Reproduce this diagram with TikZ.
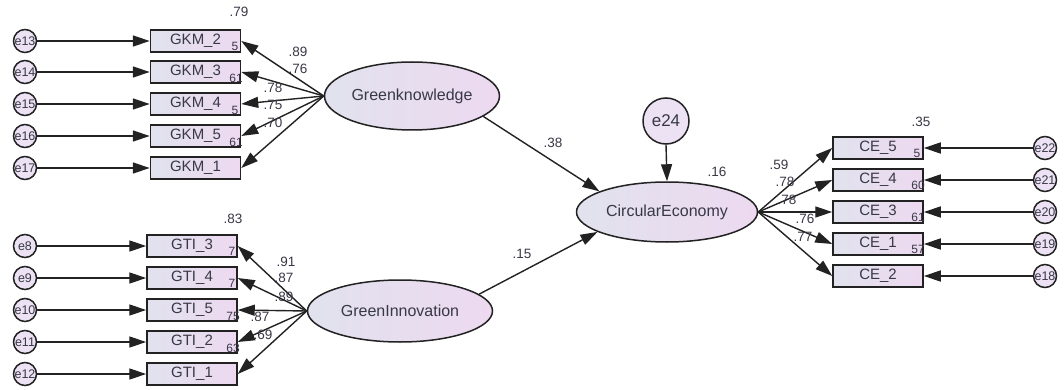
\documentclass[tikz,border=0pt]{standalone}
\usepackage{fontspec}
\setmainfont{Liberation Sans}
\usetikzlibrary{shapes.geometric,arrows.meta}
\definecolor{ink}{HTML}{222222}
\definecolor{txt}{HTML}{383846}
\definecolor{fillL}{HTML}{E1E2EE}
\definecolor{fillR}{HTML}{EDD9F0}
\definecolor{errfill}{HTML}{ECE2F3}
\tikzset{
  obs/.style={rectangle, draw=ink, line width=1.5pt, minimum width=90pt, minimum height=22pt,
    inner sep=0pt, left color=fillL, right color=fillR, text=txt, font=\fontsize{15}{15}\selectfont},
  lat/.style={ellipse, draw=ink, line width=1.5pt, inner sep=0pt, left color=fillL,
    right color=fillR, text=txt, font=\fontsize{16}{16}\selectfont},
  err/.style={circle, draw=ink, line width=1.5pt, minimum size=23pt, inner sep=0pt,
    fill=errfill, text=txt, font=\fontsize{12.5}{12.5}\selectfont},
  arr/.style={draw=ink, line width=1.4pt, -{Triangle[length=17pt,width=11pt]}},
  coef/.style={text=txt, font=\fontsize{13.5}{13.5}\selectfont, inner sep=0pt},
  cornerlbl/.style={text=txt, font=\fontsize{12}{12}\selectfont, inner sep=0pt},
}
\begin{document}
\begin{tikzpicture}[x=1pt,y=-1pt]
\useasboundingbox (0,0) rectangle (1064,390);

% latent variables
\node[lat, minimum width=175pt, minimum height=68pt] (gk) at (412,96) {Greenknowledge};
\node[lat, minimum width=185pt, minimum height=62pt] (gi) at (400,311) {GreenInnovation};
\node[lat, minimum width=181pt, minimum height=60pt] (ce) at (667,212) {CircularEconomy};
\node[err, minimum size=46pt, font=\fontsize{17}{17}\selectfont] (e24) at (666,121) {e24};

% Green knowledge indicators
\node[obs] (gkm2) at (195.5,41)  {GKM\_2};
\node[obs] (gkm3) at (195.5,72)  {GKM\_3};
\node[obs] (gkm4) at (195.5,104) {GKM\_4};
\node[obs] (gkm5) at (195.5,136) {GKM\_5};
\node[obs] (gkm1) at (195.5,168) {GKM\_1};
\node[err] (e13) at (25,41)  {e13};
\node[err] (e14) at (25,72)  {e14};
\node[err] (e15) at (25,104) {e15};
\node[err] (e16) at (25,136) {e16};
\node[err] (e17) at (25,168) {e17};

% Green innovation indicators
\node[obs] (gti3) at (192,246) {GTI\_3};
\node[obs] (gti4) at (192,278) {GTI\_4};
\node[obs] (gti5) at (192,310) {GTI\_5};
\node[obs] (gti2) at (192,342) {GTI\_2};
\node[obs] (gti1) at (192,374) {GTI\_1};
\node[err] (e8)  at (25,246) {e8};
\node[err] (e9)  at (25,278) {e9};
\node[err] (e10) at (25,310) {e10};
\node[err] (e11) at (25,342) {e11};
\node[err] (e12) at (25,374) {e12};

% Circular economy indicators
\node[obs] (ce5) at (878,148) {CE\_5};
\node[obs] (ce4) at (878,180) {CE\_4};
\node[obs] (ce3) at (878,212) {CE\_3};
\node[obs] (ce1) at (878,244) {CE\_1};
\node[obs] (ce2) at (878,276) {CE\_2};
\node[err] (e22) at (1045,148) {e22};
\node[err] (e21) at (1045,180) {e21};
\node[err] (e20) at (1045,212) {e20};
\node[err] (e19) at (1045,244) {e19};
\node[err] (e18) at (1045,276) {e18};

% squared multiple correlations tucked into box corners
\node[cornerlbl] at (235,46)  {5};
\node[cornerlbl] at (236,78)  {61};
\node[cornerlbl] at (235,110) {5};
\node[cornerlbl] at (236,142) {61};
\node[cornerlbl] at (232,251) {7};
\node[cornerlbl] at (232,283) {7};
\node[cornerlbl] at (233,316) {75};
\node[cornerlbl] at (233,348) {63};
\node[cornerlbl] at (917,153) {5};
\node[cornerlbl] at (918,185) {60};
\node[cornerlbl] at (918,217) {61};
\node[cornerlbl] at (918,249) {57};

% error terms
\foreach \e/\b in {e13/gkm2,e14/gkm3,e15/gkm4,e16/gkm5,e17/gkm1,
                   e8/gti3,e9/gti4,e10/gti5,e11/gti2,e12/gti1,
                   e22/ce5,e21/ce4,e20/ce3,e19/ce1,e18/ce2}
  \draw[arr] (\e) -- (\b);

% loadings
\foreach \b in {gkm2,gkm3,gkm4,gkm5,gkm1}
  \draw[arr] (gk.west) -- (\b.east);
\foreach \b in {gti3,gti4,gti5,gti2,gti1}
  \draw[arr] (gi.west) -- (\b.east);
\foreach \b in {ce5,ce4,ce3,ce1,ce2}
  \draw[arr] (ce.east) -- (\b.west);

% structural paths
\draw[arr] (gk.-16) -- (ce.163);
\draw[arr] (gi.12) -- (ce.196);
\draw[arr] (e24.south) -- (ce.north);

% estimates
\node[coef] at (239,12)  {.79};
\node[coef] at (298,52)  {.89};
\node[coef] at (298,69)  {.76};
\node[coef] at (273,88)  {.78};
\node[coef] at (273,105) {.75};
\node[coef] at (273,123) {.70};
\node[coef] at (233,219) {.83};
\node[coef] at (286,262) {.91};
\node[coef] at (284,278) {.87};
\node[coef] at (284,297) {.89};
\node[coef] at (260,317) {.87};
\node[coef] at (263,335) {.69};
\node[coef] at (553,143) {.38};
\node[coef] at (522,254) {.15};
\node[coef] at (717,172) {.16};
\node[coef] at (921,122) {.35};
\node[coef] at (779,165) {.59};
\node[coef] at (785,182) {.78};
\node[coef] at (787,200) {.78};
\node[coef] at (805,219) {.76};
\node[coef] at (803,237) {.77};
\end{tikzpicture}
\end{document}
